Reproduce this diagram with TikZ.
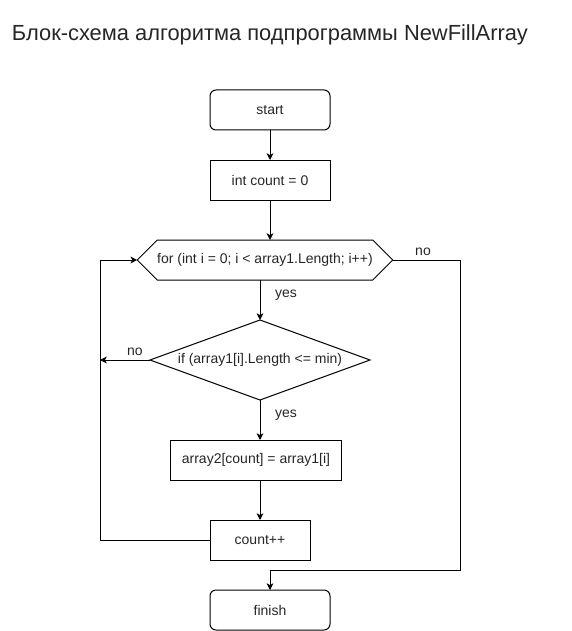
\documentclass[tikz,border=0pt]{standalone}
\usepackage{fontspec}
\setmainfont{Liberation Sans}
\usetikzlibrary{positioning,calc}
\usetikzlibrary{arrows.meta}

\begin{document}
\begin{tikzpicture}[x=0.75pt,y=-0.75pt,
   line width=0.75pt,
   every node/.style={font=\fontsize{10.5}{12}\selectfont, text=black!85, outer sep=0pt},
   >={Stealth[length=5pt,width=5pt,inset=1.3pt]},
   terminal/.style={draw, rounded corners=4.5pt, minimum width=90pt, minimum height=30pt, inner sep=0pt},
   block/.style={draw, minimum height=30pt, inner sep=0pt},
   hidden/.style={inner sep=0pt},
   lbl/.style={font=\fontsize{10.5}{12}\selectfont}]
   \useasboundingbox (0,0) rectangle (571,631);

   \node[anchor=west, inner sep=0pt, font=\fontsize{16.4}{18}\selectfont] (title) at (12,35) {Блок-схема алгоритма подпрограммы NewFillArray};

   \node[terminal] (start) at (270,110) {start};
   \node[block, minimum width=90pt, below=22.5pt of start] (init) {int count = 0};
   \node[hidden, minimum width=157.5pt, minimum height=30pt, below=30pt of init, xshift=-3.75pt] (loop) {for (int i = 0; i < array1.Length; i++)};
   \node[hidden, minimum width=165pt, minimum height=60pt, below=30pt of loop, xshift=-3.75pt] (cond) {if (array1[i].Length <= min)};
   \node[block, minimum width=128pt, below=30pt of cond, xshift=-3pt] (assign) {array2[count] = array1[i]};
   \node[block, minimum width=75pt, below=30pt of assign, xshift=3pt] (inc) {count++};
   \node[terminal, below=22.5pt of inc, xshift=7.5pt] (finish) {finish};

   \coordinate (loopL) at ([xshift=-15pt]loop.west);
   \coordinate (loopR) at ([xshift=15pt]loop.east);
   \coordinate (backX) at (100,0);
   \coordinate (exitX) at (460,0);
   \coordinate (exitY) at ([yshift=-7.5pt]inc.south);

   \draw (loop.north west) -- (loopL) -- (loop.south west) -- (loop.south east) -- (loopR) -- (loop.north east) -- cycle;
   \draw (cond.north) -- (cond.east) -- (cond.south) -- (cond.west) -- cycle;

   \draw[->] (start) -- (init);
   \draw[->] (init.south) -- (init.south |- loop.north);
   \draw[->] (cond.north |- loop.south) -- node[lbl, right=8pt, pos=.38] {yes} (cond.north);
   \draw[->] (cond.south) -- node[lbl, right=8pt, pos=.38] {yes} (cond.south |- assign.north);
   \draw[->] (inc.north |- assign.south) -- (inc.north);
   \draw[->] (inc.west) -- (inc.west -| backX) |- (loopL);
   \draw[->] (cond.west) -- node[lbl, above, pos=.3] {no} (cond.west -| backX);
   \draw[->] (loopR) -- node[lbl, above, pos=.45] {no} (loopR -| exitX) -- (exitX |- exitY) -| (finish.north);
\end{tikzpicture}
\end{document}
